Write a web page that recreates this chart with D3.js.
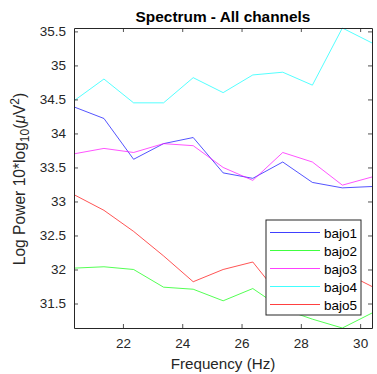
<!DOCTYPE html>
<html>
<head>
<meta charset="utf-8">
<script src="https://cdn.jsdelivr.net/npm/d3@7"></script>
<style>
  html, body { margin: 0; padding: 0; background: #fff; }
  svg { display: block; font-family: "Liberation Sans", Arial, Helvetica, sans-serif; }
</style>
</head>
<body>
<svg id="chart" width="377" height="374"></svg>
<script>
const freqs = [20.35, 21.36, 22.36, 23.37, 24.37, 25.38, 26.38, 27.39, 28.39, 29.40, 30.40];
const bajo1 = [34.39, 34.22, 33.62, 33.85, 33.94, 33.42, 33.34, 33.58, 33.28, 33.20, 33.22];
const bajo2 = [32.02, 32.04, 32.00, 31.74, 31.71, 31.54, 31.72, 31.42, 31.27, 31.14, 31.36];
const bajo3 = [33.70, 33.78, 33.72, 33.85, 33.82, 33.50, 33.31, 33.72, 33.58, 33.24, 33.36];
const bajo4 = [34.48, 34.80, 34.45, 34.45, 34.82, 34.60, 34.86, 34.90, 34.71, 35.55, 35.33];
const bajo5 = [33.10, 32.87, 32.56, 32.20, 31.82, 32.00, 32.11, 31.56, 31.85, 31.97, 31.75];
const seriesNames = ["bajo1", "bajo2", "bajo3", "bajo4", "bajo5"];
const seriesValues = [bajo1, bajo2, bajo3, bajo4, bajo5];
const seriesColors = ["#0000ff", "#00ff00", "#ff00ff", "#00ffff", "#ff0000"];
const xTicks = [22, 24, 26, 28, 30];
const yTicks = [31.5, 32, 32.5, 33, 33.5, 34, 34.5, 35, 35.5];
const titleText = "Spectrum - All channels";
const xLabelText = "Frequency (Hz)";

const svg = d3.select("#chart");
const L = 74, R = 372, T = 28, B = 328;
const axisColor = "#262626";

const allVals = seriesValues.flat();
const x = d3.scaleLinear().domain(d3.extent(freqs)).range([L, R]);
const y = d3.scaleLinear().domain(d3.extent(allVals)).range([B, T]);

// lines
const line = d3.line().x((d, i) => x(freqs[i])).y(d => y(d));
const plot = svg.append("g");
seriesValues.forEach((vals, k) => {
  plot.append("path")
    .datum(vals)
    .attr("d", line)
    .attr("fill", "none")
    .attr("stroke", seriesColors[k])
    .attr("stroke-width", 0.9)
    .attr("stroke-opacity", 0.75);
});

// axes
const fontTick = 13.5;
const xAxisB = d3.axisBottom(x).tickValues(xTicks).tickSizeInner(-4).tickSizeOuter(0).tickPadding(10).tickFormat(d3.format("d"));
const xAxisT = d3.axisTop(x).tickValues(xTicks).tickSizeInner(-4).tickSizeOuter(0).tickFormat("");
const yAxisL = d3.axisLeft(y).tickValues(yTicks).tickSizeInner(-4).tickSizeOuter(0).tickPadding(8).tickFormat(d3.format("~g"));
const yAxisR = d3.axisRight(y).tickValues(yTicks).tickSizeInner(-4).tickSizeOuter(0).tickFormat("");

function style(g) {
  g.selectAll("path.domain").attr("stroke", axisColor).attr("stroke-width", 1);
  g.selectAll(".tick line").attr("stroke", axisColor).attr("stroke-width", 0.8);
  g.selectAll(".tick text").attr("fill", axisColor).style("font-size", fontTick + "px")
    .style("font-family", '"Liberation Sans", Arial, sans-serif');
}
svg.append("g").attr("transform", `translate(0,${B})`).call(xAxisB).call(style);
svg.append("g").attr("transform", `translate(0,${T})`).call(xAxisT).call(style);
svg.append("g").attr("transform", `translate(${L},0)`).call(yAxisL).call(style);
svg.append("g").attr("transform", `translate(${R},0)`).call(yAxisR).call(style);

// title
svg.append("text")
  .attr("x", (L + R) / 2).attr("y", 22)
  .attr("text-anchor", "middle")
  .attr("font-weight", "bold")
  .attr("font-size", 15.4)
  .attr("fill", "#000")
  .text(titleText);

// x label
svg.append("text")
  .attr("x", (L + R) / 2).attr("y", 369)
  .attr("text-anchor", "middle")
  .attr("font-size", 15.2)
  .attr("fill", axisColor)
  .text(xLabelText);

// y label
const yl = svg.append("text")
  .attr("transform", `translate(25,${(T + B) / 2 + 1}) rotate(-90)`)
  .attr("text-anchor", "middle")
  .attr("font-size", 15.6)
  .attr("fill", axisColor);
yl.append("tspan").text("Log Power 10*log");
yl.append("tspan").attr("font-size", 12).attr("dy", 4).text("10");
yl.append("tspan").attr("dy", -4).text("(");
yl.append("tspan").attr("font-style", "italic").text("\u03BC");
yl.append("tspan").text("V");
yl.append("tspan").attr("font-size", 12).attr("dy", -6).text("2");
yl.append("tspan").attr("dy", 6).text(")");

// legend
const lg = svg.append("g");
lg.append("rect")
  .attr("x", 266).attr("y", 220).attr("width", 95).attr("height", 95)
  .attr("fill", "#fff").attr("stroke", axisColor).attr("stroke-width", 1);
seriesNames.forEach((name, k) => {
  const yy = 232.5 + k * 18;
  lg.append("line").attr("x1", 270).attr("x2", 320).attr("y1", yy).attr("y2", yy)
    .attr("stroke", seriesColors[k]).attr("stroke-width", 1).attr("stroke-opacity", 0.75);
  lg.append("text").attr("x", 324).attr("y", yy + 5)
    .attr("font-size", 13.5).attr("fill", "#000").text(name);
});
</script>
</body>
</html>
